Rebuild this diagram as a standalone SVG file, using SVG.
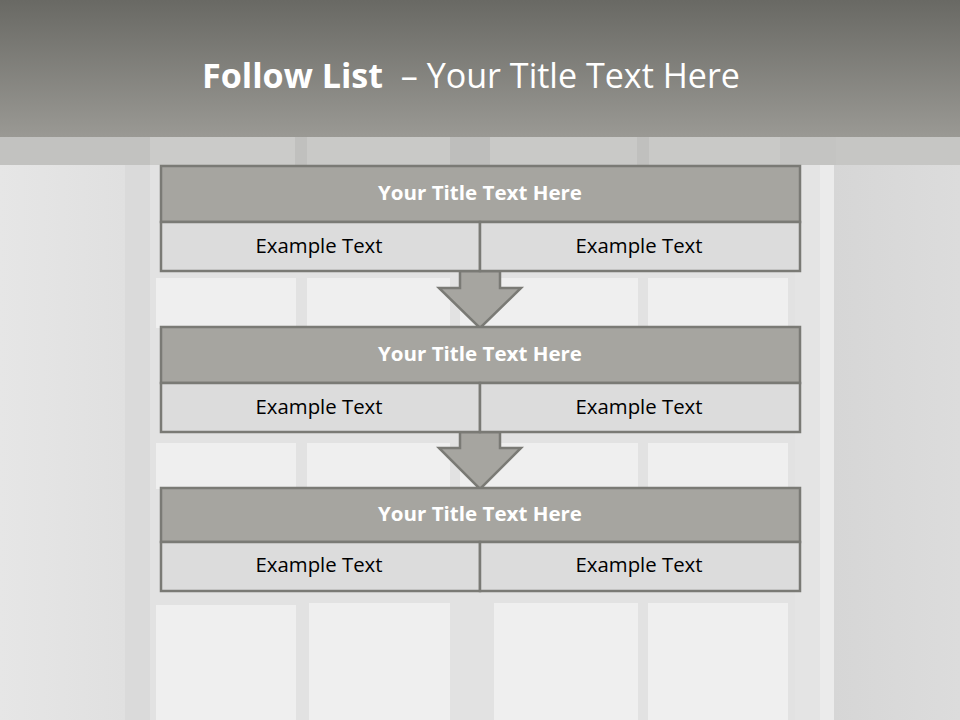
<svg xmlns="http://www.w3.org/2000/svg" width="960" height="720" viewBox="0 0 960 720">
<defs>
<linearGradient id="hdr" x1="0" y1="0" x2="0" y2="1">
<stop offset="0" stop-color="#696964"/>
<stop offset="1" stop-color="#9a9994"/>
</linearGradient>
<linearGradient id="wallL" x1="0" y1="0" x2="1" y2="0">
<stop offset="0" stop-color="#e6e6e6"/>
<stop offset="1" stop-color="#e0e0e0"/>
</linearGradient>
<linearGradient id="wallR" x1="0" y1="0" x2="1" y2="0">
<stop offset="0" stop-color="#d6d6d6"/>
<stop offset="1" stop-color="#dcdcdc"/>
</linearGradient>
<style>
.ttl{fill:#a6a5a0;stroke:#7a7a75;stroke-width:2.5}
.cell{fill:#dcdcdc;stroke:#7a7a75;stroke-width:2.5}
.arr{fill:#a6a5a0;stroke:#7a7a75;stroke-width:2.5;stroke-linejoin:miter}
.th{font-family:"Open Sans","Liberation Sans",sans-serif;font-weight:bold;font-size:20px;fill:#ffffff;text-anchor:middle}
.ex{font-family:"Open Sans","Liberation Sans",sans-serif;font-size:20px;fill:#000000;text-anchor:middle}
.pane{fill:#efefef}
</style>
</defs>
<!-- background scene -->
<rect x="0" y="0" width="960" height="720" fill="#e0e0e0"/>
<rect x="0" y="137" width="125" height="583" fill="url(#wallL)"/>
<rect x="125" y="137" width="30" height="583" fill="#dadada"/>
<rect x="150" y="137" width="645" height="583" fill="#e2e2e2"/>
<rect x="795" y="137" width="25" height="583" fill="#e4e4e4"/>
<rect x="820" y="137" width="14" height="583" fill="#ebebeb"/>
<rect x="834" y="137" width="126" height="583" fill="url(#wallR)"/>
<g class="panes">
<rect class="pane" x="156" y="278" width="140" height="50"/>
<rect class="pane" x="307" y="278" width="143" height="50"/>
<rect class="pane" x="460" y="278" width="178" height="50"/>
<rect class="pane" x="648" y="278" width="140" height="50"/>
<rect class="pane" x="156" y="443" width="140" height="46"/>
<rect class="pane" x="307" y="443" width="143" height="46"/>
<rect class="pane" x="460" y="443" width="178" height="46"/>
<rect class="pane" x="648" y="443" width="140" height="46"/>
<rect class="pane" x="156" y="605" width="140" height="115"/>
<rect class="pane" x="309" y="603" width="141" height="117"/>
<rect class="pane" x="494" y="603" width="144" height="117"/>
<rect class="pane" x="648" y="603" width="140" height="117"/>
</g>
<rect x="0" y="137" width="960" height="28" fill="#c9c9c7"/>
<rect x="0" y="137" width="150" height="28" fill="#c2c2c0"/>
<rect x="150" y="137" width="145" height="28" fill="#cbcbc9"/>
<rect x="295" y="137" width="12" height="28" fill="#c0c0be"/>
<rect x="450" y="137" width="40" height="28" fill="#bebebc"/>
<rect x="637" y="137" width="12" height="28" fill="#c0c0be"/>
<rect x="780" y="137" width="56" height="28" fill="#c4c4c2"/>
<rect x="836" y="137" width="124" height="28" fill="#c6c6c4"/>
<!-- header -->
<rect x="0" y="0" width="960" height="137" fill="url(#hdr)"/>
<text xml:space="preserve" x="202" y="88" font-family="Open Sans, Liberation Sans, sans-serif" font-size="34" fill="#ffffff" textLength="538" lengthAdjust="spacingAndGlyphs"><tspan font-weight="bold">Follow List</tspan><tspan>  – Your Title Text Here</tspan></text>
<!-- connectors -->
<g id="connectors">
<path class="arr" d="M460,271 L500,271 L500,288 L521,288 L480,328 L439,288 L460,288 Z"/>
<path class="arr" d="M460,432 L500,432 L500,448 L521,448 L480,489 L439,448 L460,448 Z"/>
</g>
<!-- nodes -->
<g id="node1">
<rect class="ttl" x="161" y="166" width="639" height="56"/>
<rect class="cell" x="161" y="222" width="319" height="49"/>
<rect class="cell" x="480" y="222" width="320" height="49"/>
<text class="th" x="480" y="200" textLength="204" lengthAdjust="spacingAndGlyphs">Your Title Text Here</text>
<text class="ex" x="319" y="253" textLength="127" lengthAdjust="spacingAndGlyphs">Example Text</text>
<text class="ex" x="639" y="253" textLength="127" lengthAdjust="spacingAndGlyphs">Example Text</text>
</g>
<g id="node2">
<rect class="ttl" x="161" y="327" width="639" height="56"/>
<rect class="cell" x="161" y="383" width="319" height="49"/>
<rect class="cell" x="480" y="383" width="320" height="49"/>
<text class="th" x="480" y="361" textLength="204" lengthAdjust="spacingAndGlyphs">Your Title Text Here</text>
<text class="ex" x="319" y="414" textLength="127" lengthAdjust="spacingAndGlyphs">Example Text</text>
<text class="ex" x="639" y="414" textLength="127" lengthAdjust="spacingAndGlyphs">Example Text</text>
</g>
<g id="node3">
<rect class="ttl" x="161" y="488" width="639" height="54"/>
<rect class="cell" x="161" y="542" width="319" height="49"/>
<rect class="cell" x="480" y="542" width="320" height="49"/>
<text class="th" x="480" y="521" textLength="204" lengthAdjust="spacingAndGlyphs">Your Title Text Here</text>
<text class="ex" x="319" y="572" textLength="127" lengthAdjust="spacingAndGlyphs">Example Text</text>
<text class="ex" x="639" y="572" textLength="127" lengthAdjust="spacingAndGlyphs">Example Text</text>
</g>
</svg>
